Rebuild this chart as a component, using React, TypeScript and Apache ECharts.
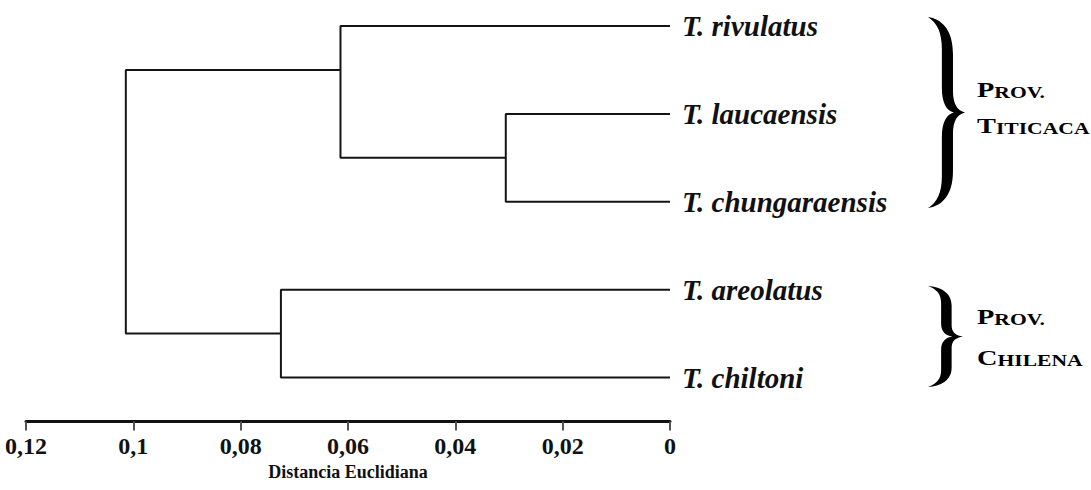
import React, { useEffect, useRef } from "react";
import * as echarts from "echarts";

// Leaves (top to bottom)
const leafNames = ["T. rivulatus", "T. laucaensis", "T. chungaraensis", "T. areolatus", "T. chiltoni"];
// Merges of the dendrogram (Euclidean distance)
const mergeHeight = [0.0306, 0.0614, 0.0725, 0.1014];
const mergeTopY = [1, 0, 3, 0.5];
const mergeBottomY = [2, 1.5, 4, 3.5];
const mergeTopChildHeight = [0, 0, 0, 0.0614];
const mergeBottomChildHeight = [0, 0.0306, 0, 0.0725];
// Axis
const xTicks = [0, 0.02, 0.04, 0.06, 0.08, 0.1, 0.12];
const axisTitle = "Distancia Euclidiana";
// Groups
const groupCaps = ["P", "T", "P", "C"];
const groupRest = ["ROV.", "ITICACA", "ROV.", "HILENA"];

const braceD =
  "M 0 2 C 14 4 27 14 27 40 L 27 78 C 27 92 32 98 40 100 C 32 102 27 108 27 122 L 27 160 C 27 186 14 196 0 198 " +
  "C 10 192 15 182 15 165 L 15 125 C 15 110 20 102 28 100 C 20 98 15 90 15 75 L 15 35 C 15 18 10 8 0 2 Z";
echarts.graphic.registerShape("brace", echarts.graphic.extendPath(braceD, {}));

const serif = "'Liberation Serif', 'Times New Roman', serif";

export default function App() {
  const ref = useRef<HTMLDivElement>(null);
  useEffect(() => {
    if (!ref.current) return;
    const chart = echarts.init(ref.current, null, { renderer: "svg" });
    const series = mergeHeight.map((h, i) => ({
      type: "line",
      symbol: "none",
      clip: false,
      silent: true,
      lineStyle: { color: "#151515", width: 2 },
      data: [
        [mergeTopChildHeight[i], mergeTopY[i]],
        [h, mergeTopY[i]],
        [h, mergeBottomY[i]],
        [mergeBottomChildHeight[i], mergeBottomY[i]],
      ],
    }));
    const capsText = (i: number) => `{a|${groupCaps[i]}}{b|${groupRest[i]}}`;
    const rich = {
      a: { fontSize: 21, fontFamily: serif, fontWeight: "bold", fill: "#000", verticalAlign: "bottom" },
      b: { fontSize: 16, fontFamily: serif, fontWeight: "bold", fill: "#000", verticalAlign: "bottom" },
    };
    const provYs = [90, 126, 317, 358];
    chart.setOption({
      animation: false,
      backgroundColor: "#ffffff",
      grid: { left: 26, right: 421, top: 26, bottom: 68.5 },
      xAxis: {
        type: "value",
        inverse: true,
        min: 0,
        max: 0.12,
        interval: 0.02,
        splitLine: { show: false },
        axisLine: { show: true, onZero: false, lineStyle: { color: "#111", width: 3 } },
        axisTick: { show: true, length: 9, lineStyle: { color: "#555", width: 2 } },
        axisLabel: {
          margin: 12,
          fontSize: 24,
          fontWeight: "bold",
          fontFamily: serif,
          color: "#111",
          formatter: (v: number) => {
            const t = xTicks.find((x) => Math.abs(x - v) < 1e-9);
            return t === undefined ? "" : t === 0 ? "0" : String(+t.toFixed(2)).replace(".", ",");
          },
        },
        name: axisTitle,
        nameLocation: "middle",
        nameGap: 41,
        nameTextStyle: { fontSize: 18, fontWeight: "bold", fontFamily: serif, color: "#111" },
      },
      yAxis: {
        type: "value",
        position: "right",
        inverse: true,
        min: 0,
        max: 4.5,
        interval: 1,
        splitLine: { show: false },
        axisLine: { show: false },
        axisTick: { show: false },
        axisLabel: {
          margin: 12,
          fontSize: 29,
          fontWeight: "bold",
          fontStyle: "italic",
          fontFamily: serif,
          color: "#111",
          padding: [6, 0, 0, 0],
          showMaxLabel: false,
          formatter: (v: number) => (Number.isInteger(v) && leafNames[v] ? leafNames[v] : ""),
        },
      },
      series,
      graphic: [
        { type: "brace", x: 928, y: 15, scaleX: 37 / 40, scaleY: 195 / 200, style: { fill: "#000" } },
        { type: "brace", x: 928, y: 285, scaleX: 35 / 40, scaleY: 103 / 200, style: { fill: "#000" } },
        ...provYs.map((y, i) => ({
          type: "text",
          x: 977,
          y,
          scaleX: 1.35,
          style: { text: capsText(i), rich, verticalAlign: "middle", align: "left", fill: "#000" },
        })),
      ],
    });
    return () => chart.dispose();
  }, []);
  return <div ref={ref} style={{ position: "absolute", left: 0, top: 0, width: 1091, height: 490 }} />;
}
